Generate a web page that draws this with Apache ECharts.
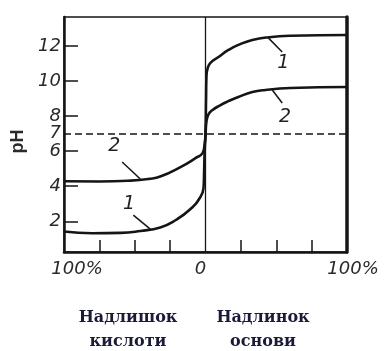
<!DOCTYPE html>
<html><head><meta charset="utf-8">
<script src="https://cdn.jsdelivr.net/npm/echarts@6/dist/echarts.min.js"></script>
<style>html,body{margin:0;padding:0;background:#fff}#c{width:390px;height:351px}</style>
</head><body><div id="c"></div>
<script>
// Data (x: % excess of acid (<0) / base (>0), pH)
const curve1X  = [-100, -80, -60, -46, -32, -21.3, -10.6, -3.5, -1.4, -1.0, -0.6, 0, 0.4, 0.7, 1.6, 3.5, 9.2, 16.2, 23.2, 33.1, 45, 60, 100];
const curve1PH = [1.42, 1.32, 1.34, 1.45, 1.65, 2.06, 2.7, 3.4, 3.9, 4.8, 6.0, 7.0, 9.0, 10.3, 10.75, 11.03, 11.37, 11.77, 12.06, 12.34, 12.5, 12.58, 12.62];
const curve2X  = [-100, -75, -53, -40, -32, -17.7, -7.1, -2.1, -0.7, 0, 0.7, 2.1, 5, 10, 16.2, 23.2, 33.1, 42.3, 60, 100];
const curve2PH = [4.28, 4.27, 4.32, 4.42, 4.55, 5.09, 5.6, 5.89, 6.35, 6.92, 7.7, 8.1, 8.35, 8.6, 8.85, 9.09, 9.37, 9.49, 9.6, 9.66];
const yTickValues  = [2, 4, 6, 8, 10, 12];
const yLabelValues = [2, 4, 6, 7, 8, 10, 12];
const xTickValues  = [-75, -50, -25, 25, 50, 75];
const xLabelValues = [-100, 0, 100];
const xLabelText   = ['100%', '0', '100%'];
const neutralPH = 7;
// curve annotations: text, label position, leader start, leader end
const annText   = ['2', '1', '1', '2'];
const annX      = [-64.5, -54, 55, 56.3];
const annPH     = [6.3, 2.98, 11.03, 7.95];
const leadX1    = [-58.9, -51, 54.2, 54.2];
const leadPH1   = [5.38, 2.35, 11.65, 8.75];
const leadX2    = [-46.1, -39, 44.4, 47.2];
const leadPH2   = [4.41, 1.55, 12.46, 9.49];
const bottomText = [['Надлишок', 'кислоти'], ['Надлинок', 'основи']];

const ink = '#151515';
const numFont = {fontStyle: 'italic', fontFamily: 'DejaVu Sans', fontSize: 18, color: '#2a2a2a'};

const chart = echarts.init(document.getElementById('c'), null, {renderer: 'canvas'});
const zip = (xs, ys) => xs.map((x, i) => [x, ys[i]]);

const option = {
  animation: false,
  backgroundColor: '#fff',
  grid: {left: 64, top: 17, right: 43, bottom: 99, show: true, borderColor: ink, borderWidth: 1.5, backgroundColor: 'transparent'},
  xAxis: {
    type: 'value', min: -100, max: 100,
    axisLine: {show: true, onZero: false, lineStyle: {color: ink, width: 2.5}},
    axisTick: {show: true, inside: true, length: 12, customValues: xTickValues, lineStyle: {color: ink, width: 1.5}},
    axisLabel: Object.assign({customValues: xLabelValues, margin: 8,
      formatter: v => {
        const i = xLabelValues.indexOf(v);
        return '{' + ['l', 'm', 'r'][i] + '|' + xLabelText[i] + '}';
      },
      rich: {
        l: Object.assign({padding: [0, 0, 0, 26]}, numFont),
        m: Object.assign({padding: [0, 10, 0, 0]}, numFont),
        r: Object.assign({padding: [0, 0, 0, 12]}, numFont)
      }}, numFont),
    splitLine: {show: false}
  },
  yAxis: [{
    type: 'value', min: 0.25, max: 13.65, name: 'pH', nameLocation: 'middle', nameRotate: 90, nameGap: 34,
    nameTextStyle: {fontFamily: 'Liberation Sans', fontWeight: 'bold', fontSize: 18, color: '#2a2a2a', padding: [0, 14, 0, 0]},
    axisLine: {show: true, onZero: false, lineStyle: {color: ink, width: 2.5}},
    axisTick: {show: true, inside: true, length: 14, customValues: yTickValues, lineStyle: {color: ink, width: 1.5}},
    axisLabel: Object.assign({customValues: yLabelValues, margin: 3}, numFont),
    splitLine: {show: false}
  }, {
    type: 'value', min: 0.25, max: 13.65, position: 'right',
    axisLine: {show: true, onZero: false, lineStyle: {color: ink, width: 3.5}},
    axisTick: {show: false}, axisLabel: {show: false}, splitLine: {show: false}
  }],
  series: [
    {
      type: 'line', data: zip(curve1X, curve1PH), smooth: 0.5, symbol: 'none',
      lineStyle: {color: ink, width: 2.6},
      markLine: {
        silent: true, symbol: 'none', label: {show: false},
        data: [
          {xAxis: 0, lineStyle: {color: ink, width: 1.3, type: 'solid'}},
          {yAxis: neutralPH, lineStyle: {color: ink, width: 1.5, type: [7, 4]}}
        ].concat(annText.map((t, i) => [
          {coord: [leadX1[i], leadPH1[i]], lineStyle: {color: ink, width: 1.5, type: 'solid'}},
          {coord: [leadX2[i], leadPH2[i]]}
        ]))
      },
      markPoint: {
        silent: true, symbol: 'circle', symbolSize: 0,
        label: Object.assign({show: true, position: 'inside'}, numFont, {fontSize: 19, color: '#222'}),
        data: annText.map((t, i) => ({coord: [annX[i], annPH[i]], value: t, label: {formatter: t}}))
      }
    },
    {
      type: 'line', data: zip(curve2X, curve2PH), smooth: 0.5, symbol: 'none',
      lineStyle: {color: ink, width: 2.6}
    }
  ],
  graphic: bottomText.flatMap((lines, j) => lines.map((s, k) => ({
    type: 'text', x: j === 0 ? 128 : 263, y: 318 + k * 24,
    style: {text: s, textAlign: 'center', textVerticalAlign: 'middle',
      font: 'bold 16px "DejaVu Serif"', fill: '#1b1b38'}
  })))
};
chart.setOption(option);
</script>
</body></html>
